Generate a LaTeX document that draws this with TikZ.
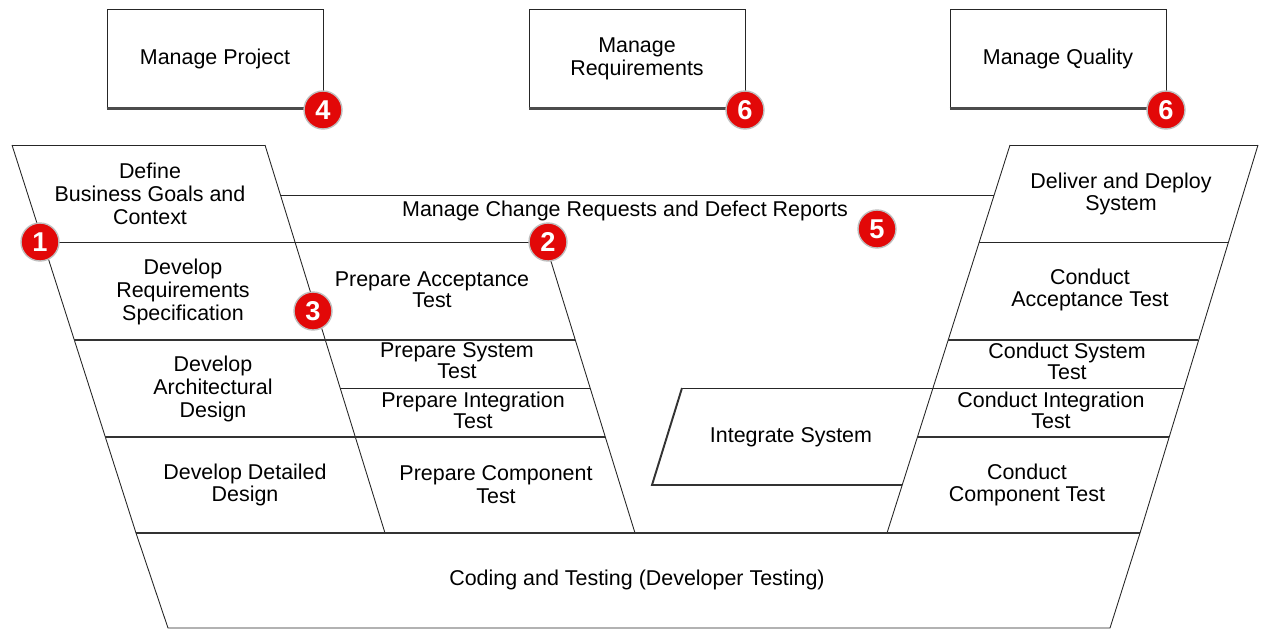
\documentclass[tikz,border=0pt]{standalone}
\usepackage{fontspec}
\setmainfont{Liberation Sans}
\usepackage{xcolor}
\usetikzlibrary{positioning}
\definecolor{badgered}{RGB}{226,8,8}

\begin{document}
\begin{tikzpicture}[x=0.02cm,y=-0.02cm,
  every node/.style={font=\fontsize{12.2}{13}\selectfont, align=center, inner sep=0pt},
  tight/.style={font=\fontsize{12.2}{10.8}\selectfont},
  fineline/.style={black!85, line width=0.5pt},
  boldline/.style={black!80, line width=1.1pt},
  topbox/.style={draw=black!85, line width=0.5pt, minimum width=4.32cm, minimum height=1.98cm},
  shadowline/.style={black!70, line width=1.6pt},
  badge/.style={circle, fill=badgered, draw=black!25, line width=0.8pt, minimum size=0.76cm,
                text=white, font=\fontsize{15.5}{15.5}\bfseries\selectfont}]

\useasboundingbox (0,0) rectangle (1264,630);

% top boxes
\node[topbox] (project) at (215,58.5) {Manage Project};
\node[topbox] (requirements) at (637,58.5) {Manage\\Requirements};
\node[topbox] (quality) at (1058,58.5) {Manage Quality};
\draw[shadowline] (project.south west) -- (project.south east);
\draw[shadowline] (requirements.south west) -- (requirements.south east);
\draw[shadowline] (quality.south west) -- (quality.south east);


% left column
\draw[fineline] (12,145) -- (265,145);
\draw[fineline] (12,145) -- (136,533);
\draw[fineline] (265,145) -- (385,533);
\draw[fineline] (43,242) -- (545,242);
\draw[boldline] (74,340) -- (575,340);
\draw[fineline] (340,388) -- (590,388);
\draw[boldline] (105,437) -- (605,437);
\draw[fineline] (545,242) -- (635,533);

% change requests band
\draw[fineline] (280,195) -- (994,195);

% right column
\draw[fineline] (1010,145) -- (1258,145);
\draw[fineline] (1010,145) -- (887,533);
\draw[fineline] (1258,145) -- (1140,533);
\draw[fineline] (979,242) -- (1228,242);
\draw[boldline] (948,340) -- (1198,340);
\draw[fineline] (682,388) -- (1184,388);
\draw[boldline] (917,437) -- (1169,437);
\draw[boldline] (682,388) -- (652,485) -- (902,485);

% coding and testing
\draw[boldline] (136,533) -- (1140,533);
\draw[fineline] (136,533) -- (168,628) -- (1110,628) -- (1140,533);


\node (goals) at (150,194) {Define\\Business Goals and\\Context};
\node (reqspec) at (183,292) {Develop\\Requirements\\Specification};
\node (archdesign) at (213,389) {Develop\\Architectural\\Design};
\node (detdesign) at (245,485) {Develop Detailed\\Design};

\node (changes) at (625,211) {Manage Change Requests and Defect Reports};

\node[tight] (prepaccept) at (432,290) {Prepare Acceptance\\Test};
\node[tight] (prepsystem) at (457,361) {Prepare System\\Test};
\node[tight] (prepinteg) at (473,410) {Prepare Integration\\Test};
\node (prepcomp) at (496,485) {Prepare Component\\Test};

\node (deliver) at (1121,194) {Deliver and Deploy\\System};
\node (condaccept) at (1090,290) {Conduct\\Acceptance Test};
\node[tight] (condsystem) at (1067,361) {Conduct System\\Test};
\node[tight] (condinteg) at (1051,410) {Conduct Integration\\Test};
\node (condcomp) at (1027,485) {Conduct\\Component Test};

\node (integrate) at (791,437) {Integrate System};
\node (coding) at (637,580) {Coding and Testing (Developer Testing)};


% numbered badges
\node[badge] (b1) at (40,242) {1};
\node[badge] (b2) at (548,242) {2};
\node[badge] (b3) at (313,311) {3};
\node[badge] (b4) at (323,110) {4};
\node[badge] (b5) at (877,229) {5};
\node[badge] (b6) at (745,110) {6};
\node[badge] (b7) at (1166,110) {6};

\end{tikzpicture}
\end{document}
